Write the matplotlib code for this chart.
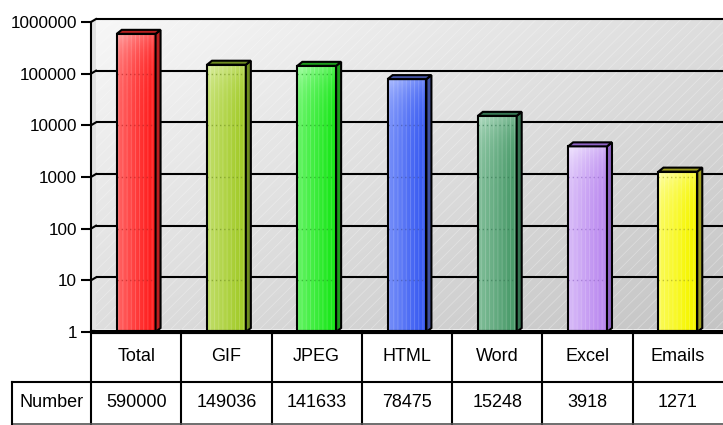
import numpy as np
import matplotlib.pyplot as plt
from matplotlib.patches import Polygon, Rectangle
from matplotlib.transforms import IdentityTransform, ScaledTranslation, blended_transform_factory
from matplotlib.colors import to_rgb

# data
categories = ["Total", "GIF", "JPEG", "HTML", "Word", "Excel", "Emails"]
values = [590000, 149036, 141633, 78475, 15248, 3918, 1271]
row_label = "Number"
tick_values = [1, 10, 100, 1000, 10000, 100000, 1000000]
tick_labels = ["1", "10", "100", "1000", "10000", "100000", "1000000"]

# bar colours: light (top-left of front face), dark (bottom-right), side face
face_light = ["#ffa4a4", "#dcefa4", "#a8ffa8", "#aebeff", "#b4dec4", "#f2e8ff", "#ffffb0"]
face_dark = ["#ff2020", "#a4cc2c", "#1ee81e", "#3a5cf2", "#4c9c6c", "#bc8cf0", "#f6f600"]
side_col = ["#b82020", "#6e8c20", "#1c9c1c", "#4050a0", "#357552", "#8e62c4", "#a0a020"]

W, H = 723, 425
FS = 13
plt.rcParams['font.family'] = ['Liberation Sans', 'DejaVu Sans']
plt.rcParams['hatch.linewidth'] = 0.6

fig = plt.figure(figsize=(W / 100, H / 100), dpi=100)
ax = fig.add_axes([91 / W, 1 - 332 / H, 632 / W, 310 / H])
ax.set_yscale('log')

def fix_limits():
    ax.set_xlim(-0.5, 6.5)
    ax.set_ylim(1, 1e6)

fix_limits()
ax.patch.set_visible(False)
for s in ['top', 'right', 'bottom']:
    ax.spines[s].set_visible(False)
ax.spines['left'].set_linewidth(1.5)
ax.set_yticks(tick_values)
ax.set_yticklabels(tick_labels)
ax.minorticks_off()
ax.set_xticks([])
ax.tick_params(axis='y', length=7, width=1.5, pad=3, labelsize=12.3)

# 3D offsets (pixels)
wall_dx, wall_dy = 5, 3
bar_dx, bar_dy = 5, 4
wall_off = ScaledTranslation(wall_dx / 100, wall_dy / 100, fig.dpi_scale_trans)

# back wall with diagonal gradient
n = 200
ii, jj = np.mgrid[0:n, 0:n] / (n - 1)
g = 0.5 * (ii + jj)[..., None]
c0 = np.array(to_rgb("#f7f7f7"))
c1 = np.array(to_rgb("#c4c4c4"))
wall = c0 * (1 - g) + c1 * g
ax.imshow(wall, extent=[0, 1, 0, 1], transform=ax.transAxes + wall_off,
          aspect='auto', zorder=0, clip_on=False, interpolation='bilinear')
ax.add_patch(Rectangle((0, 0), 1, 1, transform=ax.transAxes + wall_off, fill=False,
                       hatch='///', edgecolor=(1, 1, 1, 0.3), lw=0, zorder=0.5, clip_on=False))

# left side wall
p = ax.transAxes.transform([(0, 0), (0, 1)])
side_wall = [p[0], p[1], p[1] + [wall_dx, wall_dy], p[0] + [wall_dx, wall_dy]]
ax.add_patch(Polygon(side_wall, closed=True, transform=IdentityTransform(),
                     facecolor="#e2e2e2", edgecolor="none", zorder=0.6, clip_on=False))

# gridlines on back wall + diagonal on side wall
for v in tick_values[1:]:
    ax.plot([-0.5, 6.5], [v, v], color='black', lw=1.5, transform=ax.transData + wall_off,
            zorder=1, clip_on=False, solid_capstyle='butt')
    a = ax.transData.transform((-0.5, v))
    ax.plot([a[0], a[0] + wall_dx], [a[1], a[1] + wall_dy], color='black', lw=1.5,
            transform=IdentityTransform(), zorder=1, clip_on=False)

# floor
ax.plot([-0.5, 6.5], [1, 1], color='black', lw=3, zorder=4, clip_on=False, solid_capstyle='butt')

# bars
w = 0.43
xs = np.arange(len(categories))
bars = ax.bar(xs, [v - 1 for v in values], width=w, bottom=1, facecolor='none',
              edgecolor='black', lw=1.5, zorder=3)
for i, (b, v) in enumerate(zip(bars, values)):
    x0, x1 = i - w / 2, i + w / 2
    # front gradient: light top-left to saturated bottom-right
    cl = np.array(to_rgb(face_light[i]))
    cd = np.array(to_rgb(face_dark[i]))
    m = 60
    gx = np.linspace(0, 1, m)[None, :]
    gy = np.linspace(0, 1, m)[:, None]
    t = np.clip(0.6 * gx + 0.5 * gy, 0, 1)[..., None]
    img = cl * (1 - t) + cd * t
    im = ax.imshow(img, extent=[x0, x1, 1, v], aspect='auto', zorder=2,
                   interpolation='bilinear')
    im.set_clip_path(b)
    ax.add_patch(Rectangle((x0, 1), w, v - 1, fill=False, hatch='||||',
                           edgecolor=(1, 1, 1, 0.2), lw=0, zorder=2.5))
    # dotted lines through the bar
    for d in tick_values[1:-1]:
        if v > d:
            ax.plot([x0, x1], [d, d], ls=(0, (1, 2)), color=side_col[i], alpha=0.6,
                    lw=1, zorder=2.6)
    # side and top faces
    q = ax.transData.transform([(x0, v), (x1, v), (x1, 1)])
    off = np.array([bar_dx, bar_dy])
    side = [q[2], q[1], q[1] + off, q[2] + off]
    top = [q[0], q[1], q[1] + off, q[0] + off]
    ax.add_patch(Polygon(side, closed=True, transform=IdentityTransform(),
                         facecolor=side_col[i], edgecolor='black', lw=1.5, zorder=3,
                         clip_on=False, joinstyle='miter'))
    ax.add_patch(Polygon(top, closed=True, transform=IdentityTransform(),
                         facecolor=side_col[i], edgecolor='black', lw=1.5, zorder=3.1,
                         clip_on=False, joinstyle='miter'))

fix_limits()

# data table
trans = blended_transform_factory(ax.transData, fig.transFigure)
y_top, y_mid, y_bot = 1 - 331 / H, 1 - 381.5 / H, 1 - 423.5 / H
for k in range(len(categories)):
    ax.plot([k - 0.5, k - 0.5], [y_top, y_bot], color='black', lw=1.5,
            transform=trans, clip_on=False, zorder=5)
x_left = 12 / W
fig.add_artist(plt.Line2D([x_left, 1], [y_mid, y_mid], color='black', lw=1.5))
fig.add_artist(plt.Line2D([x_left, 1], [y_bot, y_bot], color='#555555', lw=1.2))
fig.add_artist(plt.Line2D([x_left, x_left], [y_mid, y_bot], color='black', lw=1.5))

for i, (c, v) in enumerate(zip(categories, values)):
    ax.text(i, (y_top + y_mid) / 2, c, transform=trans, ha='center', va='center',
            fontsize=FS, clip_on=False)
    ax.text(i, (y_mid + y_bot) / 2, f"{v}", transform=trans, ha='center', va='center',
            fontsize=FS, clip_on=False)
fig.text((12 + 91) / 2 / W, (y_mid + y_bot) / 2, row_label, ha='center', va='center',
         fontsize=FS)

fig.savefig("out.png", dpi=100, facecolor='white')
